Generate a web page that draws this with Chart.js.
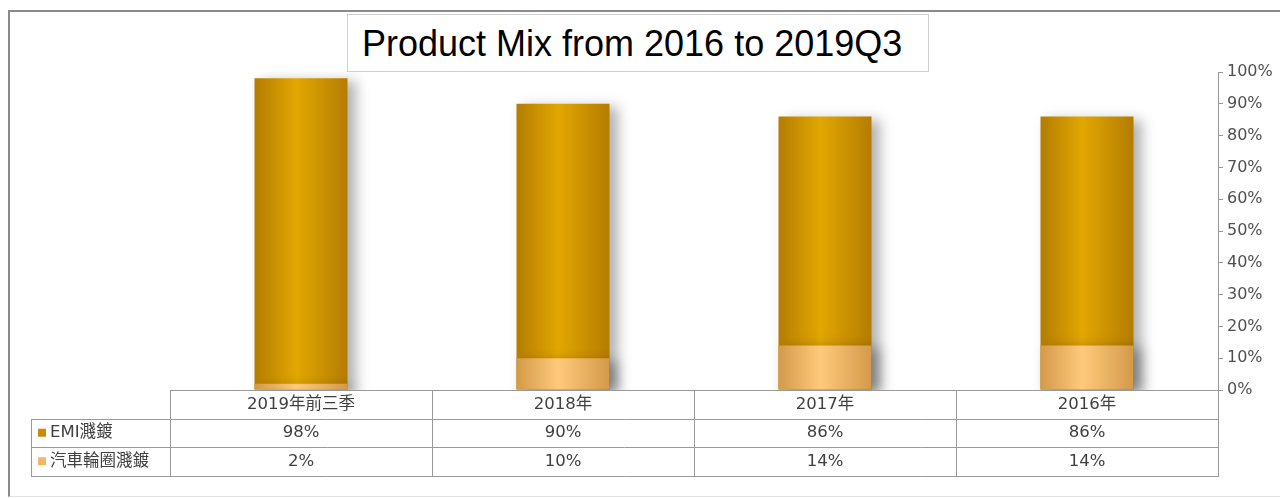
<!DOCTYPE html>
<html>
<head>
<meta charset="utf-8">
<script src="https://cdn.jsdelivr.net/npm/chart.js@4"></script>
<style>
  body { margin: 0; background: #fff; }
  #wrap { position: relative; width: 1280px; height: 498px; overflow: hidden; }
  #frame { position: absolute; left: 8px; top: 10px; width: 1290px; height: 484px;
           border-left: 2px solid #8a8a8a; border-top: 2px solid #8a8a8a; border-bottom: 1px solid #e2e2e2; }
  #title { position: absolute; left: 347px; top: 14px; width: 582px; height: 58px;
           border: 1px solid #d0d0d0; background: #fff; box-sizing: border-box;
           font-family: "Liberation Sans", Arial, sans-serif; font-size: 36px; color: #000;
           line-height: 58px; padding-left: 14px; white-space: nowrap; }
  canvas { position: absolute; left: 0; top: 0; }
</style>
</head>
<body>
<div id="wrap">
  <div id="frame"></div>
  <canvas id="mixChart" width="1280" height="498"></canvas>
  <div id="title">Product Mix from 2016 to 2019Q3</div>
</div>
<script>
// 카테고리 / 시리즈 값
const categories = ["2019年前三季", "2018年", "2017年", "2016年"];
const emiLabel = "EMI濺鍍";
const wheelLabel = "汽車輪圈濺鍍";
const emiValues = [98, 90, 86, 86];
const wheelValues = [2, 10, 14, 14];
const yTicks = [0, 10, 20, 30, 40, 50, 60, 70, 80, 90, 100];

const barPct = 0.355;
const lineColor = "#9a9a9a";
const textColor = "#404040";
const tableFont = "16.5px 'DejaVu Sans', 'Noto Sans CJK TC', sans-serif";

// 막대 가로 그라데이션
function barGradient(edge, mid) {
    return function (context) {
        const chart = context.chart;
        if (!chart.chartArea || context.type !== 'data') return mid;
        const xs = chart.scales.x;
        const cx = xs.getPixelForValue(context.dataIndex);
        const half = (xs.getPixelForValue(1) - xs.getPixelForValue(0)) * barPct / 2;
        const g = chart.ctx.createLinearGradient(cx - half, 0, cx + half, 0);
        g.addColorStop(0, edge);
        g.addColorStop(0.45, mid);
        g.addColorStop(1, edge);
        return g;
    };
}

// 막대 그림자
const shadowPlugin = {
    id: 'barShadow',
    beforeDatasetDraw(chart) {
        const ctx = chart.ctx;
        ctx.save();
        ctx.shadowColor = 'rgba(0,0,0,0.3)';
        ctx.shadowBlur = 12;
        ctx.shadowOffsetX = 8;
        ctx.shadowOffsetY = 3;
    },
    afterDatasetDraw(chart) {
        chart.ctx.restore();
    }
};

// 아래쪽 데이터 표
const tablePlugin = {
    id: 'dataTable',
    afterDraw(chart) {
        const ctx = chart.ctx;
        const xs = chart.scales.x;
        const area = chart.chartArea;
        const colW = xs.getPixelForValue(1) - xs.getPixelForValue(0);
        const left = xs.getPixelForValue(0) - colW / 2;
        const right = xs.getPixelForValue(categories.length - 1) + colW / 2;
        const rowH = 28.5;
        const top = area.bottom;
        const legendLeft = 31;
        const rows = [top, top + rowH, top + rowH * 2, top + rowH * 3];

        ctx.save();
        ctx.strokeStyle = lineColor;
        ctx.lineWidth = 1;
        ctx.beginPath();
        // 가로선
        ctx.moveTo(left, Math.round(rows[0]) + 0.5); ctx.lineTo(right, Math.round(rows[0]) + 0.5);
        for (let r = 1; r < rows.length; r++) {
            const y = Math.round(rows[r]) + 0.5;
            ctx.moveTo(legendLeft, y); ctx.lineTo(right, y);
        }
        // 세로선
        ctx.moveTo(legendLeft + 0.5, Math.round(rows[1])); ctx.lineTo(legendLeft + 0.5, Math.round(rows[3]) + 1);
        for (let i = 0; i <= categories.length; i++) {
            const x = Math.round(left + colW * i) + 0.5;
            ctx.moveTo(x, Math.round(rows[0])); ctx.lineTo(x, Math.round(rows[3]) + 1);
        }
        ctx.stroke();

        ctx.font = tableFont;
        ctx.fillStyle = textColor;
        ctx.textAlign = 'center';
        ctx.textBaseline = 'middle';
        categories.forEach((c, i) => {
            const cx = xs.getPixelForValue(i);
            ctx.fillText(c, cx, rows[0] + rowH / 2);
            ctx.fillText(emiValues[i] + '%', cx, rows[1] + rowH / 2);
            ctx.fillText(wheelValues[i] + '%', cx, rows[2] + rowH / 2);
        });

        // 범례 키
        const keys = [[emiLabel, '#c88c08'], [wheelLabel, '#f2b868']];
        keys.forEach(([label, color], r) => {
            const cy = rows[r + 1] + rowH / 2;
            ctx.fillStyle = color;
            ctx.fillRect(38, cy - 4, 8, 8);
            ctx.fillStyle = textColor;
            ctx.textAlign = 'left';
            ctx.fillText(label, 50, cy);
        });
        ctx.restore();
    }
};

const chart = new Chart(document.getElementById('mixChart').getContext('2d'), {
    type: 'bar',
    data: {
        labels: categories,
        datasets: [
            {
                label: emiLabel,
                data: emiValues,
                order: 2,
                backgroundColor: barGradient('#b47c02', '#e2a700'),
                barPercentage: barPct,
                categoryPercentage: 1
            },
            {
                label: wheelLabel,
                data: wheelValues,
                order: 1,
                backgroundColor: barGradient('#d39a48', '#ffc97c'),
                barPercentage: barPct,
                categoryPercentage: 1
            }
        ]
    },
    options: {
        responsive: false,
        animation: false,
        layout: { padding: { left: 170, top: 72, bottom: 108, right: 0 } },
        plugins: {
            legend: { display: false },
            tooltip: { enabled: false },
            title: { display: false }
        },
        scales: {
            x: {
                stacked: true,
                display: false
            },
            y: {
                stacked: false,
                position: 'right',
                min: 0,
                max: 100,
                afterBuildTicks(scale) {
                    scale.ticks = yTicks.map(v => ({ value: v }));
                },
                afterFit(scale) {
                    scale.width = 62;
                },
                ticks: {
                    padding: 4,
                    color: '#505050',
                    font: { family: "'DejaVu Sans', sans-serif", size: 16 },
                    callback: v => v + '%'
                },
                grid: {
                    drawOnChartArea: false,
                    drawTicks: true,
                    tickLength: 5,
                    color: lineColor
                },
                border: { display: true, color: lineColor }
            }
        }
    },
    plugins: [shadowPlugin, tablePlugin]
});
</script>
</body>
</html>
